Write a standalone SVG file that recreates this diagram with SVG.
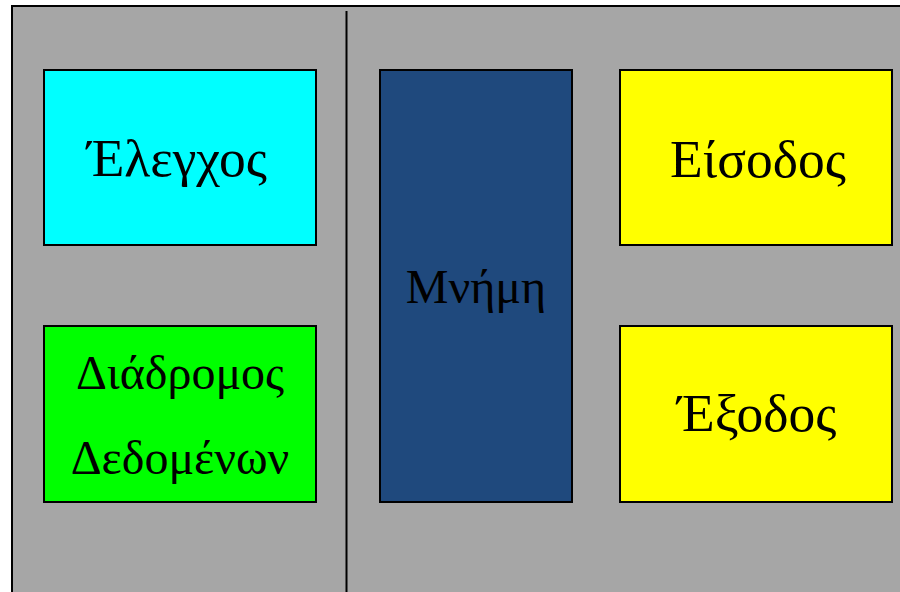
<svg xmlns="http://www.w3.org/2000/svg" width="900" height="592" viewBox="0 0 900 592">
<style>
.box{stroke:#000;stroke-width:2}
.t{font-family:"Liberation Serif","Times New Roman",serif;font-size:48px;fill:#000;text-anchor:middle}
.big{font-size:53.5px}
</style>
<rect x="0" y="0" width="900" height="592" fill="#fff"/>
<g id="frame">
<rect x="12" y="6" width="900" height="600" fill="#a6a6a6" stroke="#000" stroke-width="2"/>
</g>
<g id="connectors">
<line x1="346.5" y1="11" x2="346.5" y2="592" stroke="#000" stroke-width="2"/>
</g>
<g id="control">
<rect class="box" x="44" y="70" width="272" height="175" fill="#00ffff"/>
<text class="t big" x="177" y="176">Έλεγχος</text>
</g>
<g id="datapath">
<rect class="box" x="44" y="326" width="272" height="176" fill="#00ff00"/>
<text class="t" x="180" y="389">Διάδρομος</text>
<text class="t" x="180" y="474">Δεδομένων</text>
</g>
<g id="memory">
<rect class="box" x="380" y="70" width="192" height="432" fill="#1f497d"/>
<text class="t" x="476" y="303">Μνήμη</text>
</g>
<g id="input">
<rect class="box" x="620" y="70" width="272" height="175" fill="#ffff00"/>
<text class="t big" x="758" y="177">Είσοδος</text>
</g>
<g id="output">
<rect class="box" x="620" y="326" width="272" height="176" fill="#ffff00"/>
<text class="t big" x="757" y="431">Έξοδος</text>
</g>
</svg>
